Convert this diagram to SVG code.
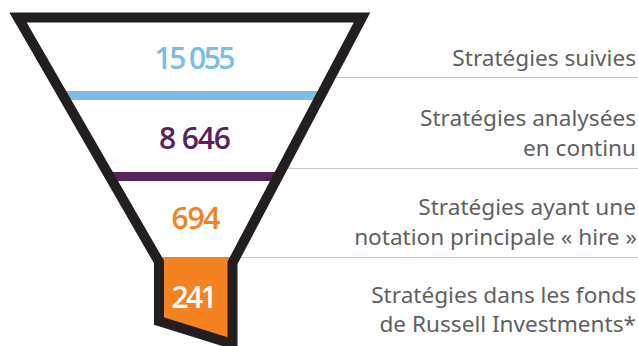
<svg xmlns="http://www.w3.org/2000/svg" width="638" height="346" viewBox="0 0 638 346">
  <style>
    .num { font-family: "Open Sans", "Noto Sans", sans-serif; font-weight: 600; font-size: 30px; text-anchor: middle; }
    .lbl { font-family: "Noto Sans", "Open Sans", sans-serif; font-size: 22.6px; fill: #5e5f61; text-anchor: end; }
    .sep { stroke: #c8c8c8; stroke-width: 1.2; fill: none; }
    .wall { fill: none; stroke: #231f20; stroke-width: 10; stroke-linejoin: miter; stroke-miterlimit: 10; }
  </style>
  <rect width="638" height="346" fill="#ffffff"/>
  <g id="connectors">
    <line class="sep" x1="330" y1="77.5" x2="638" y2="77.5"/>
    <line class="sep" x1="280" y1="168.5" x2="638" y2="168.5"/>
    <line class="sep" x1="232" y1="257.5" x2="638" y2="257.5"/>
  </g>
  <g id="funnel">
    <rect x="60" y="91" width="264" height="9" fill="#7bbde6"/>
    <rect x="107" y="172" width="174" height="9" fill="#57235a"/>
    <polygon points="157,257 236,257 232.5,262.8 232.5,344 159,321 159,262" fill="#f58220"/>
    <path class="wall" d="M18,17.5 L362,17.5 L232.5,262.8 L232.5,344 L159,321 L159,262 Z"/>
  </g>
  <g id="stage1">
    <text class="num" x="195" y="69" fill="#7bbde6" textLength="81">15 055</text>
    <text class="lbl" x="636" y="66">Stratégies suivies</text>
  </g>
  <g id="stage2">
    <text class="num" x="195" y="149" fill="#57235a" textLength="72">8 646</text>
    <text class="lbl" x="636" y="126">Stratégies analysées</text>
    <text class="lbl" x="636" y="156">en continu</text>
  </g>
  <g id="stage3">
    <text class="num" x="196" y="229" fill="#f58220" textLength="49">694</text>
    <text class="lbl" x="636" y="215">Stratégies ayant une</text>
    <text class="lbl" x="637" y="245">notation principale « hire »</text>
  </g>
  <g id="stage4">
    <text class="num" x="194.5" y="308" fill="#ffffff" textLength="46">241</text>
    <text class="lbl" x="636" y="303">Stratégies dans les fonds</text>
    <text class="lbl" x="636" y="332">de Russell Investments*</text>
  </g>
</svg>
